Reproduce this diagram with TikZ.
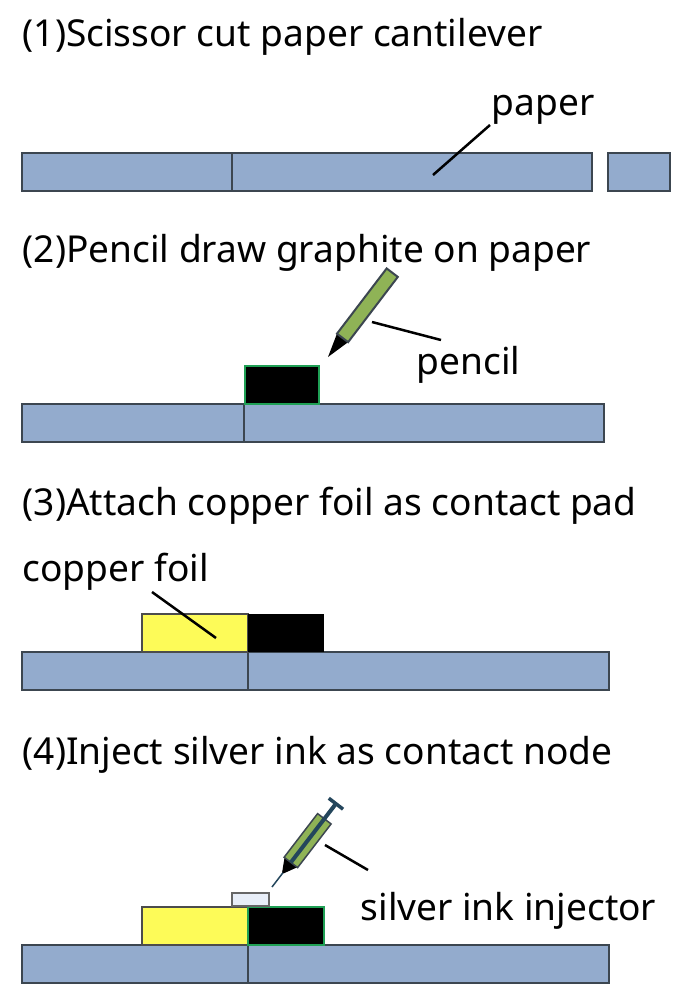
\documentclass[tikz,border=0pt]{standalone}
\usepackage{fontspec}
\setmainfont{Noto Sans}
\usetikzlibrary{positioning}
\definecolor{paperblue}{HTML}{93ABCD}
\definecolor{edgegray}{HTML}{3C4650}
\definecolor{foilyellow}{HTML}{FDFB58}
\definecolor{padgreen}{HTML}{1FA055}
\definecolor{pencilgreen}{HTML}{8FB356}
\definecolor{inkwhite}{HTML}{E8EEF8}
\definecolor{rodblue}{HTML}{24465C}
\tikzset{
  paperbar/.style={draw=edgegray, fill=paperblue, line width=0.15mm},
  graphite/.style={draw=padgreen, fill=black, line width=0.15mm},
  foil/.style={draw=black!70, fill=foilyellow, line width=0.15mm},
  leader/.style={draw=black, line width=0.25mm},
  caption/.style={anchor=base west, inner sep=0pt, font=\fontsize{10.55}{12}\selectfont}
}
\begin{document}
\begin{tikzpicture}[x=0.01cm, y=-0.01cm]
\useasboundingbox (0,0) rectangle (684,1000);

% step 1
\node[caption] (title1) at (22,46) {(1)Scissor cut paper cantilever};
\draw[paperbar] (22,153) rectangle (592,191);
\draw[paperbar] (232,153) -- (232,191);
\draw[paperbar] (608,153) rectangle (670,191);
\node[caption] (paperlabel) at (491,115) {paper};
\coordinate (paperspot) at (433,175);
\coordinate (papertip) at (490,125);
\draw[leader] (papertip) -- (paperspot);

% step 2
\node[caption] (title2) at (22,262) {(2)Pencil draw graphite on paper};
\draw[paperbar] (22,404) rectangle (604,442);
\draw[paperbar] (244,404) -- (244,442);
\draw[graphite] (245,366) rectangle (319,404);
\begin{scope}[shift={(328,357)}, rotate=52.7]
\fill[black] (0,0) -- (24,-7) -- (24,7) -- cycle;
\draw[fill=pencilgreen, draw=edgegray, line width=0.2mm] (24,-7) rectangle (106,7);
\end{scope}
\node[caption] (pencillabel) at (416,374) {pencil};
\coordinate (pencilspot) at (372,322);
\coordinate (pencilend) at (441,340);
\draw[leader] (pencilspot) -- (pencilend);

% step 3
\node[caption] (title3) at (22,515) {(3)Attach copper foil as contact pad};
\draw[paperbar] (22,652) rectangle (609,690);
\draw[paperbar] (248,652) -- (248,690);
\draw[foil] (142,614) rectangle (248,652);
\fill[black] (248,614) rectangle (324,652);
\node[caption] (foillabel) at (22,581) {copper foil};
\coordinate (foilspot) at (216,638);
\coordinate (foiltip) at (152,592);
\draw[leader] (foiltip) -- (foilspot);

% step 4
\node[caption] (title4) at (22,764) {(4)Inject silver ink as contact node};
\draw[paperbar] (22,945) rectangle (609,983);
\draw[paperbar] (248,945) -- (248,983);
\draw[foil] (142,907) rectangle (248,945);
\draw[graphite] (248,907) rectangle (324,945);
\draw[fill=inkwhite, draw=gray!80!black, line width=0.2mm] (232,893) rectangle (269,906);
\begin{scope}[shift={(272,887)}, rotate=52.5]
\draw[rodblue, line width=0.15mm] (0,0) -- (20,0);
\fill[black] (18,-1) -- (31,-8) -- (31,8) -- (18,1) -- cycle;
\draw[fill=pencilgreen, draw=edgegray, line width=0.15mm] (31,-8.5) rectangle (86,8.5);
\fill[rodblue] (31,-2) rectangle (105,2);
\draw[rodblue, line width=0.35mm] (105,-9) -- (105,9);
\end{scope}
\node[caption] (syringelabel) at (360,920) {silver ink injector};
\coordinate (syringespot) at (325,845);
\coordinate (syringeend) at (368,870);
\draw[leader] (syringespot) -- (syringeend);
\end{tikzpicture}
\end{document}
